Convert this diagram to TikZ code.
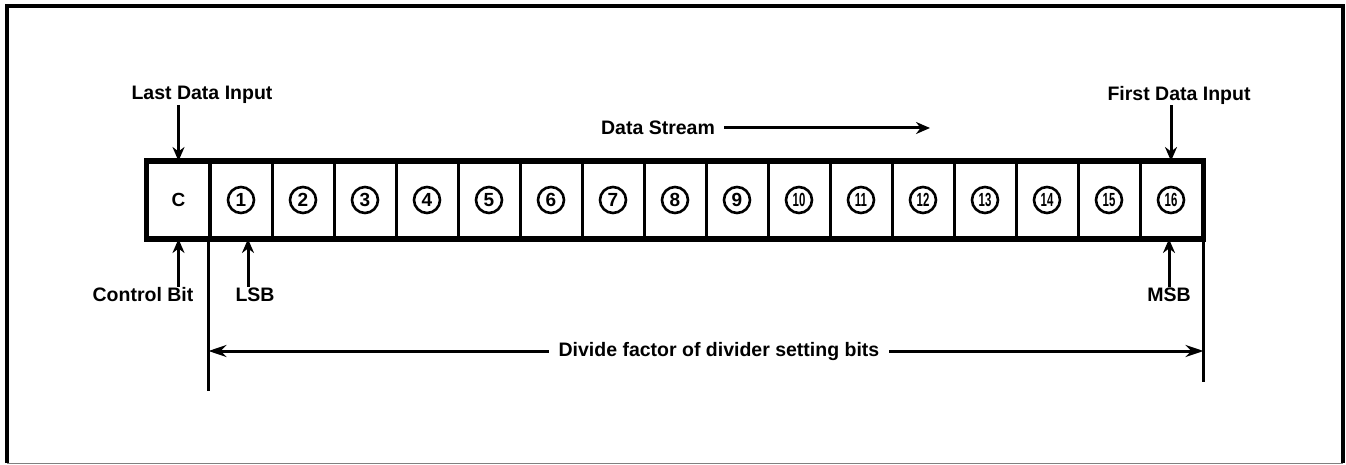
\documentclass[tikz,border=0pt]{standalone}
\usepackage{fontspec}
\setmainfont{Liberation Sans}
\usetikzlibrary{arrows.meta,positioning}
\tikzset{
  cell/.style={draw, line width=3pt, minimum width=62pt, minimum height=75pt, inner sep=0pt, font=\bfseries\fontsize{19}{21}\selectfont},
  bitnum/.style={circle, draw, line width=2.6pt, minimum size=26pt, inner sep=0pt, font=\bfseries\fontsize{19}{19}\selectfont},
  lbl/.style={inner sep=1pt, font=\bfseries\fontsize{19.5}{21}\selectfont},
  pointer/.style={line width=3pt, -{Stealth[length=14pt,width=12pt]}},
  span/.style={line width=3pt, {Stealth[length=18pt,width=12pt]}-{Stealth[length=18pt,width=12pt]}},
}
\begin{document}
\begin{tikzpicture}[x=1pt, y=-1pt, line join=miter]
  \useasboundingbox (0,0) rectangle (1346,465);
  % outer frame
  \draw[line width=3.5pt] (7,463) -- (7,6) -- (1343,6) -- (1343,463);
  \draw[gray, line width=1pt] (7,463) -- (1343,463);
  % register
  \node[cell] (c0) at (178.5,200) {C};
  \foreach \i in {1,...,16} {
    \node[cell] (b\i) at (179+62*\i,200) {};
    \node[bitnum] (n\i) at (b\i) {\ifnum\i>9 \scalebox{0.6}[1]{\i}\else\i\fi};
  }
  \draw[line width=5pt] (c0.north west) rectangle (b16.south east);
  % labels
  \node[lbl] (lastin) at (202,95) {Last Data Input};
  \node[lbl] (firstin) at (1179,95) {First Data Input};
  \node[lbl] (stream) at (658,128) {Data Stream};
  \node[lbl] (ctrl) at (143,295) {Control Bit};
  \node[lbl] (lsb) at (255,295) {LSB};
  \node[lbl] (msb) at (1169,295) {MSB};
  \coordinate (streamend) at (930,128);
  % pointers
  \draw[pointer] (lastin.south -| c0) -- (c0.north);
  \draw[pointer] (firstin.south -| b16) -- (b16.north);
  \draw[pointer] (ctrl.north -| c0) -- (c0.south);
  \draw[pointer] ([xshift=-7pt]lsb.north) -- ([xshift=-7pt]lsb.north |- b1.south);
  \draw[pointer] (msb.north) -- (msb.north |- b16.south);
  \draw[pointer] ([xshift=8pt]stream.east) -- (streamend);
  % divide factor span
  \coordinate (divl) at ([yshift=-112pt]b1.south west);
  \coordinate (divr) at ([yshift=-112pt]b16.south east);
  \draw[line width=3pt] (b1.south west) -- ([yshift=-152pt]b1.south west);
  \draw[line width=3pt] (b16.south east) -- ([yshift=-143pt]b16.south east);
  \draw[span] (divl) -- (divr)
    node[pos=0.513, fill=white, lbl, inner xsep=10pt] (divide) {Divide factor of divider setting bits};
\end{tikzpicture}
\end{document}
